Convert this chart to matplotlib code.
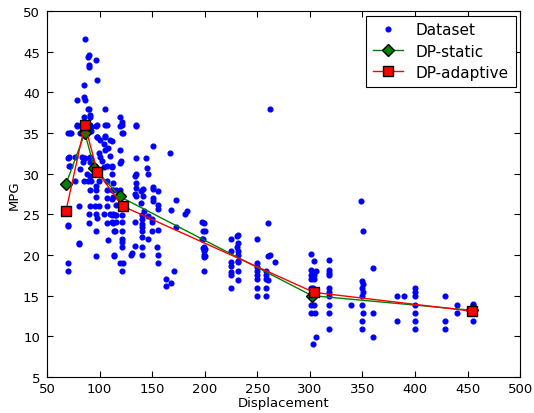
import numpy as np
import matplotlib
matplotlib.use('Agg')
import matplotlib.pyplot as plt

# scatter points (displacement, mpg)
disp = [
    86, 90, 89, 97, 90, 90, 98, 85, 85, 79, 86, 89, 90, 105, 85, 91, 91, 119, 121, 121,
    79, 86, 91, 98, 105, 107, 135, 121, 72, 81, 98, 105,
    73, 79, 92, 97, 92, 98, 105, 100, 110, 104, 108, 105, 110, 99, 100,
    71, 77, 83, 86, 91, 92, 84, 91, 96, 102, 72, 81, 107, 104, 112, 88, 91,
    77, 85, 89, 92, 99, 107, 113, 97, 91, 97, 107, 113, 97, 107, 113,
    80, 91, 96, 99, 107,
    90, 97, 98, 104, 110, 113, 90, 107, 113, 70, 97, 114, 108, 80, 97, 114, 70, 70,
    70, 70, 71, 70, 80,
    119, 135, 122, 112, 151, 119, 167, 120, 119, 135, 144, 112, 145, 135, 134, 146, 112,
    135, 135, 141, 139, 151, 151, 156, 112, 119, 116, 134, 135, 141, 151, 151, 112,
    116, 139, 156, 142, 156,
    112, 115, 116, 121, 112, 116, 121, 115, 121, 121, 121, 121, 114, 119, 122, 121,
    134, 134, 130, 131, 140, 140, 140, 140, 140, 140, 140, 140, 146, 146,
    150, 150, 150, 156, 155, 156, 156, 168, 173, 181, 183, 173, 171, 163, 168, 163,
    197, 198, 197, 199, 199, 199, 199, 199,
    200, 198, 198, 200, 200, 199,
    225, 225, 225, 225, 225, 225, 225,
    232, 231, 232, 231, 232, 232, 232, 232, 232, 232,
    250, 250, 250, 250, 250, 250, 250, 250,
    258, 258, 258, 258, 258,
    262, 260, 260, 262, 267, 260,
    349, 351, 301, 304, 301, 306, 301, 304, 301, 304, 301, 303, 301, 304, 301, 305, 306, 303,
    318, 318, 318, 318, 318, 318, 318, 318, 318, 318, 339,
    350, 351, 350, 351, 350, 350, 351, 350, 350,
    360, 360, 360, 383, 390, 383,
    400, 400, 400, 400, 400, 400, 400,
    429, 429, 429, 440, 440, 455, 455, 455, 455,
]
mpg = [
    46.6, 44.6, 44.3, 44.0, 43.4, 43.1, 41.5, 40.9, 39.4, 39.1, 39.0, 38.0, 37.9, 38.0, 37.0, 37.2, 37.0, 37.0, 36.4, 36.0,
    36.0, 36.0, 36.0, 36.0, 36.0, 36.0, 36.0, 35.0, 35.0, 35.0, 34.5, 34.6,
    35.0, 35.9, 35.7, 35.8, 35.3, 34.5, 34.5, 34.1, 34.1, 33.6, 33.2, 32.9, 32.2, 32.6, 32.0,
    32.0, 32.0, 32.0, 31.9, 32.0, 31.8, 31.4, 31.4, 31.0, 31.6, 31.0, 30.6, 30.9, 30.8, 30.8, 30.0, 29.7,
    29.1, 29.1, 29.1, 29.1, 29.1, 29.1, 28.9, 28.5, 28.0, 28.0, 28.0, 28.0, 27.1, 27.0, 27.1,
    26.0, 26.0, 26.0, 26.0, 26.0,
    25.0, 25.0, 24.5, 25.0, 25.0, 25.0, 23.9, 23.9, 23.9, 23.7, 22.9, 22.9, 21.9, 21.4, 19.9, 19.9, 19.0, 18.0,
    35.0, 31.9, 31.0, 23.6, 21.5,
    35.9, 35.9, 35.0, 34.0, 33.4, 32.9, 32.6, 31.5, 31.3, 31.9, 31.9, 31.0, 30.7, 30.0, 29.7, 30.0, 30.0,
    28.9, 28.2, 28.1, 27.9, 28.4, 28.1, 27.9, 28.0, 28.0, 28.0, 27.5, 27.2, 27.2, 27.0, 26.6, 26.9,
    26.1, 26.4, 26.1, 25.4, 25.6,
    24.9, 24.9, 24.9, 24.9, 24.0, 24.0, 24.0, 23.0, 23.0, 22.0, 21.6, 21.0, 20.0, 19.0, 19.0, 18.0,
    24.0, 21.1, 20.0, 20.2, 24.9, 24.4, 23.8, 23.5, 23.0, 22.2, 21.0, 20.0, 22.0, 24.8,
    24.4, 24.0, 23.0, 23.1, 21.0, 20.0, 19.0, 25.5, 26.8, 25.0, 25.4, 23.5, 18.0, 17.0, 16.6, 16.2,
    24.0, 23.0, 22.0, 21.0, 20.5, 20.0, 18.0, 23.9,
    22.9, 22.0, 20.9, 20.7, 19.9, 19.7,
    22.0, 20.5, 19.1, 18.6, 17.9, 17.5, 15.9,
    22.5, 22.3, 21.5, 21.0, 20.5, 20.0, 19.3, 19.1, 18.0, 16.9,
    22.0, 19.0, 18.5, 18.0, 17.5, 17.0, 15.9, 14.9,
    18.0, 17.5, 17.0, 15.9, 14.9,
    38.0, 23.9, 19.9, 20.0, 19.1, 16.9,
    26.6, 23.0, 20.1, 19.2, 18.1, 18.0, 17.5, 17.5, 17.0, 17.0, 16.0, 16.0, 13.9, 13.9, 12.9, 12.9, 9.9, 9.0,
    19.4, 18.1, 17.8, 17.5, 15.9, 15.4, 14.9, 13.9, 12.9, 10.9, 13.9,
    16.8, 16.4, 15.9, 15.4, 14.9, 13.9, 12.9, 11.9, 10.9,
    18.4, 12.9, 9.9, 14.9, 14.9, 11.9,
    15.9, 15.4, 14.9, 13.9, 12.9, 11.9, 10.9,
    14.9, 11.9, 10.9, 13.9, 12.9, 13.9, 11.9, 13.0, 14.0,
]

# DP fits
static_x = [68, 86, 95, 119, 302, 454]
static_y = [28.7, 35.0, 30.7, 27.2, 15.0, 13.2]
adapt_x = [68, 86, 98, 122, 304, 454]
adapt_y = [25.4, 36.0, 30.2, 26.0, 15.4, 13.1]

fig = plt.figure(figsize=(5.34, 4.14), dpi=100)
ax = fig.add_axes([0.088, 0.087, 0.886, 0.884])

ax.plot(disp, mpg, 'o', color='b', mec='b', ms=3.4, label='Dataset')
ax.plot(static_x, static_y, '-D', color='g', mfc='g', mec='k', ms=6.5, lw=1.0, label='DP-static')
ax.plot(adapt_x, adapt_y, '-s', color='r', mfc='r', mec='k', ms=6.5, lw=1.0, label='DP-adaptive')

ax.set_xlim(50, 500)
ax.set_ylim(5, 50)
ax.set_xticks(np.arange(50, 501, 50))
ax.set_yticks(np.arange(5, 51, 5))
ax.tick_params(direction='in', top=True, right=True, labelsize=9.5, length=4)
ax.tick_params(axis='y', pad=5)
ax.set_xlabel('Displacement', fontsize=9.5, labelpad=1)
ax.set_ylabel('MPG', fontsize=9.5, labelpad=2)

leg = ax.legend(loc='upper right', numpoints=1, fontsize=11, fancybox=False,
                framealpha=1, borderpad=0.45, handlelength=2.0, labelspacing=0.4,
                borderaxespad=0.3)
leg.get_frame().set_edgecolor('k')
leg.get_frame().set_linewidth(0.8)

fig.savefig('out.png', dpi=100)
